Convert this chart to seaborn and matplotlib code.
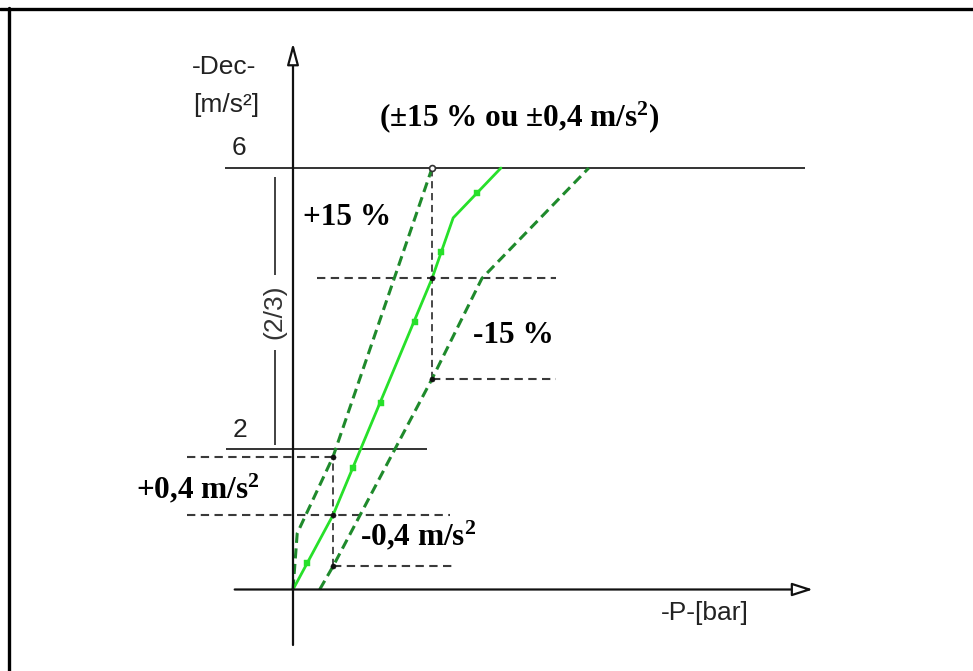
import seaborn as sns
import pandas as pd
import matplotlib.pyplot as plt
from matplotlib.lines import Line2D
from matplotlib.patches import FancyArrowPatch

# courbe nominale et bandes de tolerance (P en unites du schema, Dec en m/s2)
nominal_p = [0, 0.57, 1.98, 2.28, 2.96]
nominal_dec = [0, 1.06, 4.43, 5.29, 6.0]
nominal_mark_p = [0.20, 0.86, 1.25, 1.73, 2.11, 2.62]
nominal_mark_dec = [0.38, 1.73, 2.65, 3.81, 4.80, 5.64]
plus_p = [0, 0.06, 0.57, 1.98]
plus_dec = [0, 0.80, 1.89, 6.0]
minus_p = [0.38, 0.57, 1.98, 2.69, 4.21]
minus_dec = [0, 0.33, 3.00, 4.43, 6.0]

# points de controle
check_p = [1.98, 1.98, 1.98, 0.57, 0.57, 0.57]
check_dec = [6.0, 4.43, 3.00, 1.89, 1.06, 0.33]

# niveaux 6 et 2 m/s2
levels = [6, 2]
level_labels = ["6", "2"]
level_from = [-0.97, -0.95]
level_to = [7.29, 1.91]

# traits de rappel
guide_dec = [1.89, 1.06, 0.33, 4.43, 3.00]
guide_from = [-1.51, -1.51, 0.57, 0.34, 1.98]
guide_to = [0.57, 2.23, 2.31, 3.74, 3.74]
vguide_p = [0.57, 1.98]
vguide_from = [0.33, 3.00]
vguide_to = [1.89, 6.0]

sns.set_theme(style="white")
plt.rcParams['font.family'] = ['Liberation Sans', 'DejaVu Sans']
plt.rcParams['mathtext.fontset'] = 'custom'
plt.rcParams['mathtext.rm'] = 'Liberation Serif:bold'
plt.rcParams['mathtext.it'] = 'Liberation Serif:bold'
plt.rcParams['mathtext.bf'] = 'Liberation Serif:bold'

S = 70.25  # pixels par unite
fig = plt.figure(figsize=(9.73, 6.71), dpi=100)
ax = fig.add_axes([0, 0, 1, 1])
ax.set_xlim(-293 / S, 680 / S)
ax.set_ylim(-81.5 / S, 589.5 / S)
ax.axis('off')

dark = "#1f8a2c"
light = "#27e02a"
gray = "#3a3a3a"

# niveaux
ax.hlines(levels, level_from, level_to, color="#333333", lw=1.4)
# rappels
ax.hlines(guide_dec, guide_from, guide_to, color=gray, lw=1.5, linestyles=(0, (4, 2.6)))
ax.vlines(vguide_p, vguide_from, vguide_to, color=gray, lw=1.3, linestyles=(0, (4, 2.6)))

# courbes
sns.lineplot(x=plus_p, y=plus_dec, ax=ax, sort=False, estimator=None, color=dark,
             lw=2.2, linestyle=(0, (3.3, 1.8)))
sns.lineplot(x=minus_p, y=minus_dec, ax=ax, sort=False, estimator=None, color=dark,
             lw=2.2, linestyle=(0, (3.3, 1.8)))
sns.lineplot(x=nominal_p, y=nominal_dec, ax=ax, sort=False, estimator=None, color=light, lw=2.0)
sns.scatterplot(x=nominal_mark_p, y=nominal_mark_dec, ax=ax, marker='s', s=14,
                color=light, edgecolor=light, zorder=4)
sns.scatterplot(x=check_p[1:], y=check_dec[1:], ax=ax, s=14, color="#111111",
                edgecolor="#111111", zorder=5)
sns.scatterplot(x=check_p[:1], y=check_dec[:1], ax=ax, s=18, color="white",
                edgecolor="#333333", linewidth=1.2, zorder=5)

# axes avec fleches creuses
for start, end, hl, hw in [((0, -0.79), (0, 7.78), 1.3, 0.35), ((-0.83, 0), (7.40, 0), 1.25, 0.4)]:
    ax.add_patch(FancyArrowPatch(start, end, arrowstyle=f'-|>,head_length={hl},head_width={hw}',
                                 mutation_scale=10, shrinkA=0, shrinkB=0,
                                 fc='white', ec='#111111', lw=1.6, zorder=6))

# accolade (2/3)
ax.vlines([-0.256, -0.256], [4.47, 2.06], [5.87, 3.41], color="#333333", lw=1.3)
ax.text(-0.27, 3.96, "(2/3)", rotation=90, ha='center', va='center', fontsize=19, color="#333333")

# textes
sans = dict(fontsize=19, color="#222222", ha='center', va='center')
ax.text(-0.98, 7.44, "-Dec-", **sans)
ax.text(-0.95, 6.90, "[m/s²]", **sans)
ax.text(-0.77, 6.28, level_labels[0], **sans)
ax.text(-0.75, 2.27, level_labels[1], **sans)
ax.text(5.86, -0.33, "-P-[bar]", **sans)

serif = dict(fontsize=22.5, color="black", family='Liberation Serif', weight='bold', va='center')
ax.text(3.22, 6.73, "(±15 % ou ±0,4 m/s$^2$)", ha='center', **serif)
ax.text(0.77, 5.29, "+15 %", ha='center', **serif)
ax.text(3.13, 3.62, "-15 %", ha='center', **serif)
ax.text(-0.47, 1.43, "+0,4 m/s$^2$", ha='right', **serif)
ax.text(0.95, 0.76, "-0,4 m/s$^2$", ha='left', **serif)

# cadre (haut et gauche)
fig.add_artist(Line2D([0, 1], [1 - 8.5 / 671] * 2, transform=fig.transFigure, color='black', lw=2.4))
fig.add_artist(Line2D([9 / 973] * 2, [0, 1 - 7.5 / 671], transform=fig.transFigure, color='black', lw=2.4))

plt.savefig('out.png', dpi=100)
